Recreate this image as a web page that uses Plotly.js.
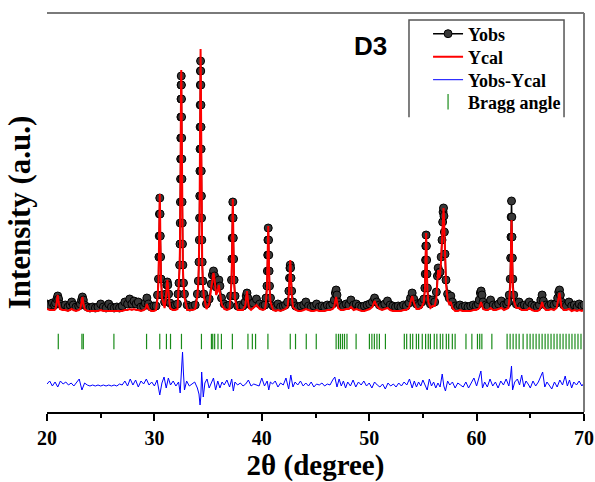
<!DOCTYPE html>
<html>
<head>
<meta charset="utf-8">
<script src="https://cdn.plot.ly/plotly-3.0.1.min.js"></script>
<style>html,body{margin:0;padding:0;background:#fff;}#chart{width:595px;height:482px;}</style>
</head>
<body>
<div id="chart"></div>
<script>
// ---- data (2θ in degrees, intensity in arbitrary units) ----
const obsX = [
 20.00,20.25,20.50,20.70,
 20.80,20.92,21.00,21.08,21.20,
 21.45,21.70,21.95,22.15,22.30,22.45,22.70,22.95,
 23.10,23.22,23.30,23.38,23.50,
 23.75,24.00,24.25,24.50,24.75,25.00,25.25,25.50,25.75,26.00,26.25,26.50,
 26.75,27.00,27.25,27.50,27.70,27.90,28.10,28.30,28.50,28.75,29.00,
 29.15,29.30,29.45,29.70,29.95,30.15,
 30.29,30.38,30.42,30.45,30.47,30.50,30.53,30.55,30.58,30.62,30.71,
 30.95,31.08,31.15,31.20,31.25,31.32,31.45,31.70,31.95,32.15,
 32.20,32.29,32.35,32.385,32.407,32.423,32.437,32.448,32.457,32.467,32.477,32.486,32.50,
 32.514,32.523,32.533,32.543,32.552,32.563,32.577,32.593,32.615,32.65,32.71,32.80,
 33.05,33.30,33.55,33.80,
 34.00,34.09,34.15,34.185,34.207,34.223,34.237,34.248,34.257,34.267,34.277,34.286,34.30,
 34.314,34.323,34.333,34.343,34.352,34.363,34.377,34.393,34.415,34.45,34.51,34.60,
 34.85,35.10,35.30,35.40,35.50,35.60,35.75,35.90,36.00,36.10,36.25,36.50,36.75,37.00,
 37.09,37.18,37.22,37.25,37.27,37.30,37.33,37.35,37.38,37.42,37.51,
 37.75,38.00,38.25,38.45,38.55,38.62,38.70,38.80,
 39.00,39.20,39.50,39.80,40.10,40.30,
 40.39,40.48,40.52,40.55,40.57,40.60,40.63,40.65,40.68,40.72,40.81,
 41.05,41.30,41.50,41.75,42.00,42.20,
 42.40,42.52,42.58,42.62,42.65,42.68,42.72,42.78,42.90,
 43.15,43.40,43.65,43.90,44.10,44.35,44.60,44.85,45.10,45.35,45.60,45.85,46.10,46.35,46.60,
 46.75,46.85,46.92,47.00,47.10,
 47.35,47.60,47.85,48.10,48.30,48.55,48.80,49.05,49.30,49.55,49.80,50.05,50.30,
 50.50,50.70,50.95,51.20,51.45,51.70,51.95,52.20,52.45,52.70,52.95,53.20,53.45,53.70,
 53.85,54.00,54.15,54.40,54.65,54.90,
 55.09,55.18,55.22,55.25,55.27,55.30,55.33,55.35,55.38,55.42,55.51,
 55.70,55.90,56.10,
 56.25,56.35,56.42,56.50,56.60,56.70,56.78,56.84,56.88,56.92,56.96,57.00,57.06,57.15,57.30,57.45,57.60,57.75,
 58.00,58.25,58.45,58.70,58.95,59.20,59.45,59.70,59.95,60.15,
 60.25,60.35,60.42,60.50,60.60,
 60.85,61.05,61.30,61.55,61.80,62.05,62.30,62.55,62.80,62.95,
 63.04,63.13,63.17,63.20,63.22,63.25,63.28,63.30,63.33,63.37,63.46,
 63.70,63.95,64.20,64.45,64.70,64.90,65.15,65.40,65.65,65.85,
 65.98,66.10,66.22,66.45,66.70,66.95,67.20,67.45,
 67.55,67.65,67.72,67.80,67.90,
 68.10,68.35,68.60,68.85,69.10,69.35,69.55,69.80,70.00
];
const obsY = [
 108,107,109,107,
 109,113,116,113,108,
 106,107,105,107,110,107,105,106,
 108,112,115,112,107,
 105,104,105,104,105,108,105,104,108,105,104,105,
 104,106,110,108,113,108,111,108,110,105,106,
 109,114,108,105,106,106,
 117,133,155,176,198,214,198,176,155,133,117,
 110,118,127,130,127,118,109,106,107,108,
 118,129,147,168,189,210,233,253,274,295,313,327,336,
 327,313,295,274,253,233,210,189,168,147,129,118,
 107,105,106,107,
 118,131,150,172,194,216,241,263,285,307,327,341,351,
 341,327,307,285,263,241,216,194,172,150,131,118,
 108,113,128,137,141,136,125,128,132,126,114,108,106,107,
 116,132,153,174,194,210,194,174,153,132,116,
 106,107,106,110,116,119,114,108,
 107,109,113,108,106,107,
 114,126,141,157,172,184,172,157,141,126,114,
 106,105,108,105,106,107,
 110,121,134,144,147,144,134,121,110,
 106,105,106,107,110,106,105,106,108,105,106,105,107,106,108,
 112,119,122,117,110,
 107,106,108,107,112,107,108,106,105,106,107,108,110,
 114,110,107,106,108,111,107,106,105,106,105,107,106,109,
 114,119,113,108,107,110,
 113,124,138,152,166,177,166,152,138,124,113,
 108,112,110,
 120,136,144,138,140,155,172,190,200,204,196,180,158,132,118,114,116,110,
 106,105,107,105,106,105,106,107,106,108,
 112,119,121,117,110,
 107,106,112,107,106,108,111,107,108,110,
 117,133,154,175,195,211,195,175,154,133,117,
 108,110,106,107,106,110,107,106,105,107,
 112,117,111,107,106,108,107,109,
 114,120,122,117,110,
 107,106,110,106,107,105,108,106,107
];
const calY = [
 103,102,102,102,
 103,110,117,110,103,
 102,102,101,102,103,102,101,102,
 103,110,115,109,103,
 101,101,101,101,101,102,101,101,101,101,101,101,
 101,101,102,102,103,102,103,102,102,101,102,
 103,108,103,101,101,102,
 114,131,154,177,201,218,201,177,154,131,114,
 104,115,128,132,128,115,104,102,102,103,
 115,127,146,168,189,211,234,256,277,299,318,332,342,
 332,318,299,277,256,234,211,189,168,146,127,115,
 102,102,102,103,
 116,129,150,173,197,220,246,269,293,316,337,353,363,
 353,337,316,293,269,246,220,197,173,150,129,116,
 103,108,124,135,139,133,117,121,127,119,108,103,102,103,
 113,130,152,174,196,213,196,174,152,130,113,
 102,102,102,106,116,121,113,104,
 102,104,107,103,102,103,
 110,123,140,157,173,186,173,157,140,123,110,
 102,101,102,101,102,103,
 105,118,134,148,152,148,134,118,105,
 102,101,101,102,103,102,101,101,102,101,101,101,102,102,103,
 105,112,115,110,104,
 102,102,103,103,105,102,103,102,101,101,102,103,105,
 111,106,103,102,103,104,102,101,101,101,101,102,102,104,
 110,116,110,103,103,105,
 110,121,137,152,167,179,167,152,137,121,110,
 104,106,106,
 114,133,142,134,137,153,171,190,200,204,195,178,155,128,112,108,110,104,
 101,101,102,101,101,101,101,102,102,103,
 104,108,110,107,103,
 102,102,104,102,102,103,104,102,103,104,
 112,125,143,161,179,192,179,161,143,125,112,
 104,104,102,102,102,104,102,101,101,102,
 105,110,105,102,102,103,102,104,
 109,116,119,113,105,
 102,102,103,101,102,101,102,101,102
];
const diffX = [
 20.00,20.25,20.50,20.75,21.00,21.25,21.50,21.75,22.00,22.25,22.50,22.75,23.00,23.25,23.50,
 23.75,24.00,24.25,24.50,24.75,25.00,25.25,25.50,25.75,26.00,26.25,26.50,26.75,27.00,
 27.25,27.50,27.75,28.00,28.25,28.50,28.75,29.00,29.25,29.50,29.75,30.00,30.25,30.50,
 30.70,30.90,31.10,31.30,31.50,31.75,32.00,32.25,32.40,32.55,32.62,32.70,32.80,
 33.00,33.25,33.50,33.75,34.00,34.15,34.25,34.32,34.40,34.48,34.55,34.70,
 34.90,35.10,35.30,35.50,35.70,35.90,36.10,36.30,36.50,36.75,37.00,37.20,37.35,37.50,
 37.75,38.00,38.25,38.50,38.75,39.00,39.25,39.50,39.75,40.00,40.25,40.50,40.65,40.80,
 41.00,41.25,41.50,41.75,42.00,42.25,42.50,42.70,42.90,43.10,43.35,43.60,43.85,
 44.10,44.35,44.60,44.85,45.10,45.35,45.60,45.85,46.10,46.35,46.60,46.80,47.00,
 47.20,47.40,47.60,47.80,48.00,48.25,48.50,48.75,49.00,49.25,49.50,49.75,50.00,
 50.25,50.50,50.75,51.00,51.25,51.50,51.75,52.00,52.25,52.50,52.75,53.00,53.25,53.50,53.75,
 54.00,54.20,54.40,54.60,54.80,55.00,55.20,55.40,55.60,55.80,56.00,56.20,56.40,56.60,
 56.80,56.95,57.10,57.30,57.50,57.75,58.00,58.25,58.50,58.75,59.00,59.25,59.50,59.75,
 60.00,60.20,60.40,60.55,60.75,61.00,61.25,61.50,61.75,62.00,62.25,62.50,62.75,63.00,
 63.15,63.25,63.35,63.55,63.80,64.00,64.20,64.40,64.60,64.80,65.00,65.25,65.50,65.75,
 65.95,66.15,66.35,66.55,66.75,67.00,67.25,67.50,67.75,68.00,68.25,68.45,68.65,68.85,
 69.05,69.30,69.55,69.80,70.00
];
const diffY = [
 28,31,26,30,25,31,28,30,27,29,26,30,33,22,29,
 27,26,27,26,27,26,27,26,27,26,27,26,28,27,
 31,26,33,27,32,25,31,28,33,27,30,26,32,17,
 29,35,24,34,27,31,26,30,19,44,60,40,22,
 31,26,28,30,24,18,7,15,40,30,15,29,
 33,24,30,34,22,31,24,30,27,32,25,33,21,30,
 27,29,26,28,32,26,28,27,26,34,26,31,22,30,
 28,31,25,29,27,34,23,37,25,30,27,31,26,
 29,26,30,25,28,27,29,26,28,27,32,35,25,
 33,26,31,24,30,26,32,25,30,27,31,26,29,
 24,30,27,25,28,23,29,26,28,25,29,26,30,27,33,
 24,31,25,30,26,32,27,22,33,26,30,24,29,25,
 38,26,21,31,27,30,24,29,27,25,30,24,29,34,
 26,33,41,24,30,25,33,26,30,24,31,27,33,26,
 35,46,22,30,33,27,37,25,31,28,24,31,26,30,
 36,40,25,30,27,23,30,25,32,27,36,26,32,24,
 30,27,31,26,29
];
const braggX = [
 21.05,23.25,23.38,26.23,29.27,30.50,31.12,31.50,32.52,34.38,35.31,35.43,35.61,35.92,36.24,
 37.26,38.71,39.12,39.42,40.57,42.65,43.14,44.14,45.07,46.92,47.14,47.32,47.51,47.70,47.93,
 48.78,50.02,50.25,50.48,50.72,50.95,51.51,53.27,53.49,53.83,54.05,54.39,54.60,54.94,55.25,
 55.50,55.70,56.06,56.30,56.62,56.85,57.18,57.40,57.74,58.00,59.01,59.56,60.08,60.29,60.49,
 61.42,62.84,63.12,63.40,63.68,63.96,64.33,64.70,64.98,65.26,65.54,65.82,66.10,66.38,66.65,
 66.93,67.21,67.49,67.77,68.05,68.33,68.61,68.88,69.16,69.44,69.72
];
const BRAGG_LEVEL = 70.5;
const seriesNames = ['Yobs', 'Ycal', 'Yobs-Ycal', 'Bragg angle'];
const xTicks = [20, 30, 40, 50, 60, 70];

if (obsX.length !== obsY.length || obsX.length !== calY.length || diffX.length !== diffY.length) {
  throw new Error('length mismatch ' + obsX.length + ' ' + obsY.length + ' ' + calY.length + ' ' + diffX.length + ' ' + diffY.length);
}

const serif = 'Liberation Serif, Times New Roman, serif';
const traces = [
  {x: obsX, y: obsY, name: seriesNames[0], type: 'scatter', mode: 'lines+markers', legend: 'legend',
   line: {color: '#000', width: 1.5},
   marker: {symbol: 'circle', size: 8, color: '#383838', line: {color: '#000', width: 1}}},
  {x: obsX, y: calY, name: seriesNames[1], type: 'scatter', mode: 'lines', legend: 'legend2',
   line: {color: '#ff0000', width: 2}},
  {x: diffX, y: diffY, name: seriesNames[2], type: 'scatter', mode: 'lines', legend: 'legend3',
   line: {color: '#0000ff', width: 1}},
  {x: braggX, y: braggX.map(() => BRAGG_LEVEL), name: seriesNames[3], type: 'scatter', mode: 'markers', legend: 'legend4',
   marker: {symbol: 'line-ns-open', size: 11, color: '#1a8c1a', line: {color: '#1a8c1a', width: 1.2}}}
];

const legendFont = {family: serif, size: 18, color: '#000', weight: 'bold'};
function legendAt(yPaper) {
  return {x: 0.7096, y: yPaper, xanchor: 'left', yanchor: 'middle', bgcolor: 'rgba(0,0,0,0)',
          borderwidth: 0, font: legendFont};
}

const layout = {
  width: 595, height: 482,
  margin: {l: 47, r: 11, t: 13, b: 70},
  paper_bgcolor: '#fff', plot_bgcolor: '#fff',
  showlegend: true,
  legend: legendAt(0.9474),
  legend2: legendAt(0.8897),
  legend3: legendAt(0.8321),
  legend4: legendAt(0.7769),
  xaxis: {range: [20, 70], tickvals: xTicks, ticktext: xTicks.map(String),
          ticks: 'outside', ticklen: 7, tickwidth: 2, tickcolor: '#000',
          minor: {dtick: 5, ticks: 'outside', ticklen: 4, tickwidth: 2, tickcolor: '#000'},
          showline: true, linecolor: '#000', linewidth: 2, showgrid: false, zeroline: false,
          tickfont: {family: serif, size: 20, color: '#000', weight: 'bold'},
          title: {text: '\u00a0\u00a02θ (degree)', font: {family: serif, size: 29, color: '#000', weight: 'bold'}, standoff: 9}},
  yaxis: {range: [0, 399], showline: false, showticklabels: false, ticks: '', showgrid: false, zeroline: false,
          automargin: false,
          title: {text: 'Intensity (a.u.)', font: {family: serif, size: 31, color: '#000', weight: 'bold'}, standoff: 6}},
  annotations: [
    {text: 'D3', xref: 'paper', yref: 'paper', x: 0.6015, y: 0.917, xanchor: 'center', yanchor: 'middle', showarrow: false,
     font: {family: 'Liberation Sans, Arial, sans-serif', size: 26, color: '#000', weight: 'bold'}}
  ],
  shapes: [
    {type: 'line', xref: 'paper', yref: 'paper', x0: 0, x1: 1, y0: 1, y1: 1, line: {color: '#7a7a7a', width: 2}},
    {type: 'line', xref: 'paper', yref: 'paper', x0: 1, x1: 1, y0: 0, y1: 1, line: {color: '#7a7a7a', width: 2}},
    {type: 'path', xref: 'paper', yref: 'paper',
     path: 'M 0.6741 0.739 L 0.6741 0.9825 L 0.9628 0.9825 L 0.9628 0.739', line: {color: '#555', width: 1.5}}
  ]
};

Plotly.newPlot('chart', traces, layout, {displayModeBar: false, staticPlot: true});
</script>
</body>
</html>
